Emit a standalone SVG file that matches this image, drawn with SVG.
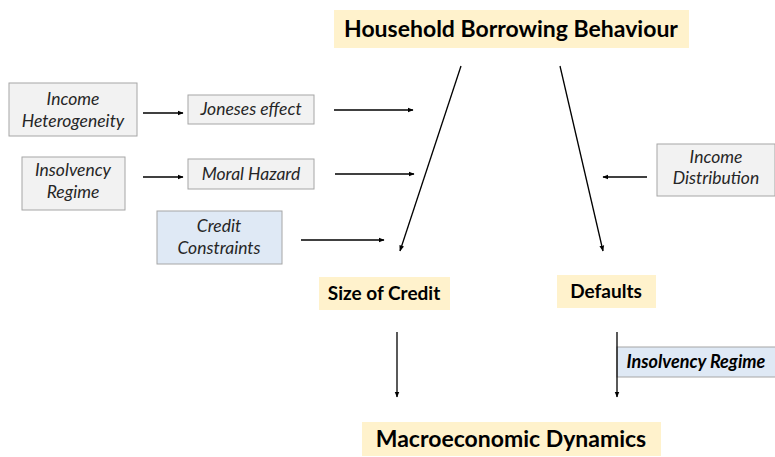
<svg xmlns="http://www.w3.org/2000/svg" width="775" height="457" viewBox="0 0 775 457">
<style>
.g{fill:#f2f2f2;stroke:#a6a6a6;stroke-width:1}
.b{fill:#dfe9f5;stroke:#a6a6a6;stroke-width:1}
.y{fill:#fff2cc;stroke:none}
.t{font-family:Lato,"Open Sans",sans-serif;font-size:17.5px;font-style:italic;fill:#262626;text-anchor:middle}
.h{font-family:Lato,"Open Sans",sans-serif;font-weight:bold;fill:#000;text-anchor:middle}
.c{stroke:#000;stroke-width:1.3;fill:none;marker-end:url(#a)}
</style>
<defs>
<marker id="a" viewBox="0 0 10 10" refX="9" refY="5" markerWidth="6" markerHeight="6" markerUnits="userSpaceOnUse" orient="auto">
<path d="M0,1 L10,5 L0,9 z" fill="#000"/>
</marker>
</defs>
<g id="household"><rect class="y" x="334" y="10" width="355" height="38"/><text class="h" x="511" y="37" font-size="23">Household Borrowing Behaviour</text></g>
<g id="income-het"><rect class="g" x="9" y="83" width="128" height="53"/><text class="t" x="73" y="105">Income</text><text class="t" x="73" y="127">Heterogeneity</text></g>
<g id="joneses"><rect class="g" x="188" y="95" width="126" height="29"/><text class="t" x="251" y="115">Joneses effect</text></g>
<g id="insolvency"><rect class="g" x="22" y="157" width="103" height="53"/><text class="t" x="73" y="176">Insolvency</text><text class="t" x="73" y="198">Regime</text></g>
<g id="moral"><rect class="g" x="188" y="159" width="126" height="30"/><text class="t" x="251" y="180">Moral Hazard</text></g>
<g id="credit-constraints"><rect class="b" x="157" y="211" width="125" height="53"/><text class="t" x="219" y="232">Credit</text><text class="t" x="219" y="254">Constraints</text></g>
<g id="income-dist"><rect class="g" x="657" y="144" width="118" height="52"/><text class="t" x="716" y="163">Income</text><text class="t" x="716" y="184">Distribution</text></g>
<g id="size-credit"><rect class="y" x="319" y="277" width="131" height="33"/><text class="h" x="384" y="300" font-size="19">Size of Credit</text></g>
<g id="defaults"><rect class="y" x="557" y="275" width="99" height="33"/><text class="h" x="606" y="298" font-size="19">Defaults</text></g>
<g id="insolvency-label"><rect class="b" x="617" y="347" width="159" height="30"/><text class="h" x="696" y="368" font-size="18" font-style="italic" fill="#262626">Insolvency Regime</text></g>
<g id="macro"><rect class="y" x="362" y="422" width="299" height="34"/><text class="h" x="511" y="447" font-size="23">Macroeconomic Dynamics</text></g>
<g id="connectors">
<line class="c" x1="143" y1="113" x2="183" y2="113"/>
<line class="c" x1="143" y1="177" x2="183" y2="177"/>
<line class="c" x1="334" y1="110" x2="413" y2="110"/>
<line class="c" x1="335" y1="174" x2="414" y2="174"/>
<line class="c" x1="301" y1="240" x2="384" y2="240"/>
<line class="c" x1="647" y1="177" x2="603" y2="177"/>
<line class="c" x1="461" y1="66" x2="400" y2="251"/>
<line class="c" x1="560" y1="66" x2="603" y2="251"/>
<line class="c" x1="397" y1="332" x2="397" y2="397"/>
<line class="c" x1="617" y1="332" x2="617" y2="397"/>
</g>
</svg>
